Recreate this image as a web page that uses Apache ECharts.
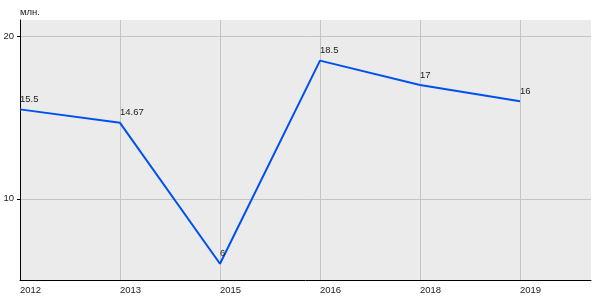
<!DOCTYPE html>
<html>
<head>
<meta charset="utf-8">
<script src="https://cdn.jsdelivr.net/npm/echarts@6/dist/echarts.min.js"></script>
<style>html,body{margin:0;padding:0;background:#fff}#c{width:600px;height:300px}</style>
</head>
<body>
<div id="c"></div>
<script>
var categories = ['2012', '2013', '2015', '2016', '2018', '2019'];
var values = [15.5, 14.67, 6, 18.5, 17, 16];
var yTicks = [10, 20];
var unitLabel = 'млн.';

var chart = echarts.init(document.getElementById('c'), null, {renderer: 'canvas'});
var idx = categories.map(function (c, i) { return i; });
var font = 'Liberation Sans, Arial, sans-serif';
chart.setOption({
  animation: false,
  grid: {left: 20, top: 20, right: 9, bottom: 20, show: true, backgroundColor: '#ebebeb', borderWidth: 0},
  xAxis: {
    type: 'value', min: 0, max: 5.71,
    axisLine: {show: true, lineStyle: {color: '#000', width: 1}},
    axisTick: {show: false, customValues: idx},
    axisLabel: {customValues: idx, formatter: function (v) { return categories[Math.round(v)]; },
      align: 'left', margin: 5, fontSize: 9.5, color: '#222', fontFamily: font},
    splitLine: {show: true, lineStyle: {color: '#c4c4c4', width: 1}}
  },
  yAxis: {
    type: 'value', min: 5, max: 21,
    name: unitLabel, nameLocation: 'end', nameGap: 8,
    nameTextStyle: {align: 'left', verticalAlign: 'middle', fontSize: 9.5, color: '#222', fontFamily: font},
    axisLine: {show: true, lineStyle: {color: '#000', width: 1}},
    axisTick: {show: true, length: 3, customValues: yTicks, lineStyle: {color: '#000'}},
    axisLabel: {customValues: yTicks, margin: 6, fontSize: 9.5, color: '#222', fontFamily: font, padding: [0, 0, 6, 0]},
    splitLine: {show: true, lineStyle: {color: '#c4c4c4', width: 1}}
  },
  series: [{
    type: 'line',
    data: values.map(function (v, i) { return [i, v]; }),
    symbol: 'circle', symbolSize: 0.1,
    itemStyle: {color: '#0050f0'},
    lineStyle: {color: '#0050f0', width: 2},
    label: {show: true, position: 'top', align: 'left', distance: 5, fontSize: 9.5, color: '#222', fontFamily: font,
      formatter: function (p) { return String(p.value[1]); }}
  }]
});
</script>
</body>
</html>
